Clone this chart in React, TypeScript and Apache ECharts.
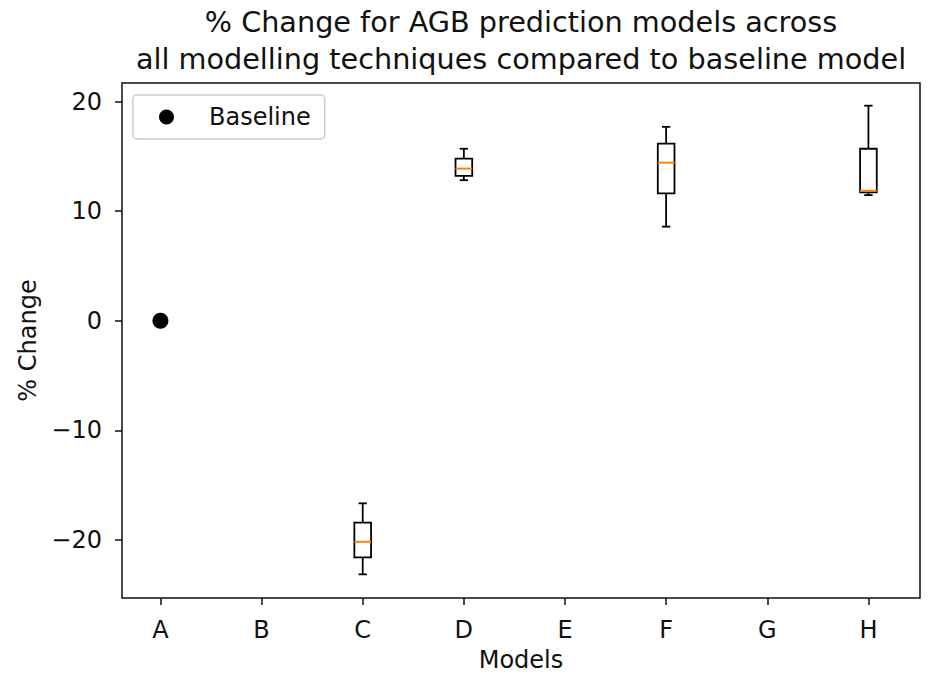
import React, { useEffect, useRef } from "react";
import * as echarts from "echarts";

const categories = ["A", "B", "C", "D", "E", "F", "G", "H"];
const boxModels = ["C", "D", "F", "H"];
const whiskerLow = [-23.14, 12.83, 8.59, 11.47];
const q1 = [-21.6, 13.22, 11.62, 11.71];
const median = [-20.17, 13.89, 14.43, 11.86];
const q3 = [-18.42, 14.8, 16.16, 15.7];
const whiskerHigh = [-16.66, 15.7, 17.7, 19.63];
const baselineModel = ["A"];
const baselineValue = [0];
const yTicks = [-20, -10, 0, 10, 20];

const FONT = "DejaVu Sans";
const BOX_W = 0.165;

export default function App() {
  const ref = useRef<HTMLDivElement>(null);
  useEffect(() => {
    if (!ref.current) return;
    const chart = echarts.init(ref.current, undefined, { renderer: "svg" });
    const xPos = categories.map((_, i) => i + 1);
    const boxData = boxModels.map((m, i) => [
      categories.indexOf(m) + 1,
      whiskerLow[i],
      q1[i],
      median[i],
      q3[i],
      whiskerHigh[i],
    ]);
    const scatterData = baselineModel.map((m, i) => [
      categories.indexOf(m) + 1,
      baselineValue[i],
    ]);
    const lineStyle = { stroke: "#000", lineWidth: 1.8, fill: "none" };
    chart.setOption({
      animation: false,
      backgroundColor: "#fff",
      textStyle: { fontFamily: FONT },
      title: {
        text: "% Change for AGB prediction models across\nall modelling techniques compared to baseline model",
        left: 521,
        textAlign: "center",
        top: 3,
        padding: 0,
        textStyle: {
          fontFamily: FONT,
          fontSize: 28.7,
          fontWeight: "normal",
          color: "#111",
          lineHeight: 37,
        },
      },
      legend: {
        data: ["Baseline"],
        left: 133,
        top: 95,
        orient: "vertical",
        padding: [10, 14, 10, 26],
        borderColor: "#ccc",
        borderWidth: 1.5,
        borderRadius: 4,
        backgroundColor: "#fff",
        itemWidth: 15,
        itemHeight: 15,
        icon: "circle",
        textStyle: {
          fontFamily: FONT,
          fontSize: 24,
          color: "#111",
          padding: [0, 0, 0, 30],
        },
      },
      grid: {
        left: 122,
        top: 83,
        right: 28,
        bottom: 75,
        show: true,
        borderColor: "#111",
        borderWidth: 1.5,
        backgroundColor: "transparent",
      },
      xAxis: {
        type: "value",
        min: 0.62,
        max: 8.51,
        name: "Models",
        nameLocation: "middle",
        nameGap: 50,
        nameTextStyle: { fontFamily: FONT, fontSize: 24, color: "#111" },
        axisLine: { show: false, onZero: false },
        splitLine: { show: false },
        axisTick: {
          show: true,
          customValues: xPos,
          length: 7,
          lineStyle: { color: "#111", width: 1.5 },
        },
        axisLabel: {
          customValues: xPos,
          margin: 20,
          fontFamily: FONT,
          fontSize: 24,
          color: "#111",
          formatter: (v: number) => categories[Math.round(v) - 1] ?? "",
        },
      },
      yAxis: {
        type: "value",
        min: -25.3,
        max: 21.7,
        name: "% Change",
        nameLocation: "middle",
        nameGap: 80,
        nameTextStyle: { fontFamily: FONT, fontSize: 24, color: "#111" },
        axisLine: { show: false, onZero: false },
        splitLine: { show: false },
        axisTick: {
          show: true,
          customValues: yTicks,
          length: 7,
          lineStyle: { color: "#111", width: 1.5 },
        },
        axisLabel: {
          customValues: yTicks,
          margin: 20,
          fontFamily: FONT,
          fontSize: 24,
          color: "#111",
          formatter: (v: number) => (v < 0 ? "\u2212" + Math.abs(v) : String(v)),
        },
      },
      series: [
        {
          type: "custom",
          name: "Boxes",
          data: boxData,
          encode: { x: 0, y: [1, 2, 3, 4, 5] },
          renderItem: (params: any, api: any) => {
            const x = api.value(0);
            const lo = api.coord([x, api.value(1)]);
            const b1 = api.coord([x, api.value(2)]);
            const md = api.coord([x, api.value(3)]);
            const b3 = api.coord([x, api.value(4)]);
            const hi = api.coord([x, api.value(5)]);
            const bw = api.size([BOX_W, 0])[0];
            const cw = bw / 2;
            const cx = lo[0];
            return {
              type: "group",
              children: [
                { type: "line", shape: { x1: cx, y1: lo[1], x2: cx, y2: b1[1] }, style: lineStyle },
                { type: "line", shape: { x1: cx, y1: b3[1], x2: cx, y2: hi[1] }, style: lineStyle },
                { type: "line", shape: { x1: cx - cw / 2, y1: lo[1], x2: cx + cw / 2, y2: lo[1] }, style: lineStyle },
                { type: "line", shape: { x1: cx - cw / 2, y1: hi[1], x2: cx + cw / 2, y2: hi[1] }, style: lineStyle },
                {
                  type: "rect",
                  shape: { x: cx - bw / 2, y: b3[1], width: bw, height: b1[1] - b3[1] },
                  style: { stroke: "#000", lineWidth: 1.8, fill: "none" },
                },
                {
                  type: "line",
                  shape: { x1: cx - bw / 2, y1: md[1], x2: cx + bw / 2, y2: md[1] },
                  style: { stroke: "#ff7f0e", lineWidth: 2, fill: "none" },
                },
              ],
            };
          },
        },
        {
          type: "scatter",
          name: "Baseline",
          data: scatterData,
          symbol: "circle",
          symbolSize: 16,
          itemStyle: { color: "#000", opacity: 1 },
        },
      ],
    });
    return () => chart.dispose();
  }, []);
  return (
    <div
      ref={ref}
      style={{ position: "absolute", left: 0, top: 0, width: 948, height: 677 }}
    />
  );
}
